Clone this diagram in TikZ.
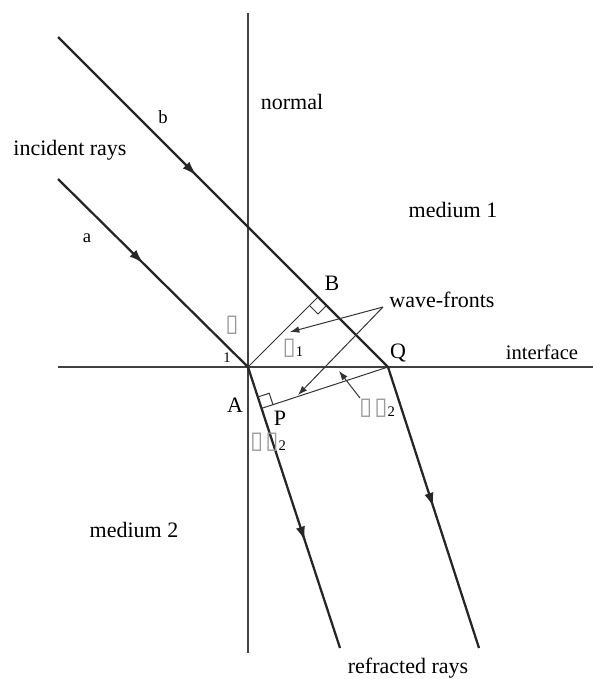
\documentclass[tikz,border=0pt]{standalone}
\usepackage{fontspec}
\setmainfont{Liberation Serif}
\newfontfamily\boxfont{DejaVu Sans}
\usetikzlibrary{calc,arrows.meta,decorations.markings}
\newcommand{\tofu}{{\boxfont\color{black!40}\fontsize{18}{20}\selectfont ▯}}
\newcommand{\subn}[1]{\raisebox{-2pt}{\fontsize{11}{12}\selectfont #1}}
\begin{document}
\begin{tikzpicture}[x=0.75pt,y=-0.75pt,
  ray/.style={line width=1.7pt, black!85},
  axisline/.style={line width=1.1pt, black!75},
  wf/.style={line width=0.75pt, black!80},
  midarrow/.style={postaction={decorate},decoration={markings,mark=at position #1 with {\arrow{Latex[length=11pt,width=7pt]}}}},
  ptr/.style={wf,-{Latex[length=7pt,width=5pt]}},
  lbl/.style={font=\fontsize{16.5}{18}\selectfont, inner sep=0pt},
  sm/.style={font=\fontsize{14}{16}\selectfont, inner sep=0pt},
  tiny/.style={font=\fontsize{11}{12}\selectfont, inner sep=0pt}
]
\useasboundingbox (0,0) rectangle (593,679);
% points
\coordinate (A) at (248,367);
\coordinate (Q) at (388,367);
\coordinate (bS) at (58,37);
\coordinate (aS) at (58,179);
\coordinate (nT) at (248,13);
\coordinate (nB) at (248,653);
\coordinate (iL) at (58,367);
\coordinate (iR) at (593,367);
\coordinate (rA) at (340,648);
\coordinate (rQ) at (479,648);
\coordinate (B) at ($(bS)!(A)!(Q)$);
\coordinate (P) at ($(A)!(Q)!(rA)$);
\coordinate (W) at (383,307);
\coordinate (w1) at (290,332);
\coordinate (w2) at (298,395);
\coordinate (t2s) at (360,398);
\coordinate (t2e) at (339,371);
% normal and interface
\draw[axisline] (nT) -- (nB);
\draw[axisline, line width=1.5pt] (iL) -- (iR);
% rays
\draw[ray, midarrow=0.42] (bS) -- (Q);
\draw[ray, midarrow=0.45] (aS) -- (A);
\draw[ray, midarrow=0.62] (A) -- (rA);
\draw[ray, midarrow=0.5] (Q) -- (rQ);
% wave-fronts
\draw[wf] (A) -- (B);
\draw[wf] (Q) -- (P);
% right-angle marks
\coordinate (B1) at ($(B)!9pt!(A)$);
\coordinate (B2) at ($(B)!9pt!(Q)$);
\draw[wf] (B1) -- ($(B1)+(B2)-(B)$) -- (B2);
\coordinate (P1) at ($(P)!9pt!(A)$);
\coordinate (P2) at ($(P)!9pt!(Q)$);
\draw[wf] (P1) -- ($(P1)+(P2)-(P)$) -- (P2);
% pointers
\draw[ptr] (W) -- (w1);
\draw[ptr] (W) -- (w2);
\draw[ptr] (t2s) -- (t2e);
% labels
\node[lbl] (tnormal) at (292,102) {normal};
\node[lbl] (tmed1) at (453,210) {medium 1};
\node[lbl] (tinc) at (70,150) {incident rays};
\node[sm] (tb) at (163,117) {b};
\node[sm] (ta) at (87,238) {a};
\node[lbl] (tB) at (332,283) {B};
\node[lbl] (twave) at (442,300) {wave-fronts};
\node[lbl] (tQ) at (398,353) {Q};
\node[lbl, font=\fontsize{15.5}{17}\selectfont] (tint) at (542,352) {interface};
\node[inner sep=0pt] (th) at (232,325) {\tofu};
\node[tiny] (tone) at (227,358) {1};
\node[inner sep=0pt] (th1) at (293,348) {\tofu\subn{1}};
\node[lbl] (tA) at (235,405) {A};
\node[lbl] (tP) at (280,418) {P};
\node[inner sep=0pt] (th2a) at (268,442) {\tofu\,\tofu\subn{2}};
\node[inner sep=0pt] (th2b) at (377,408) {\tofu\,\tofu\subn{2}};
\node[lbl] (tmed2) at (134,530) {medium 2};
\node[lbl] (trefr) at (408,668) {refracted rays};
\end{tikzpicture}
\end{document}
